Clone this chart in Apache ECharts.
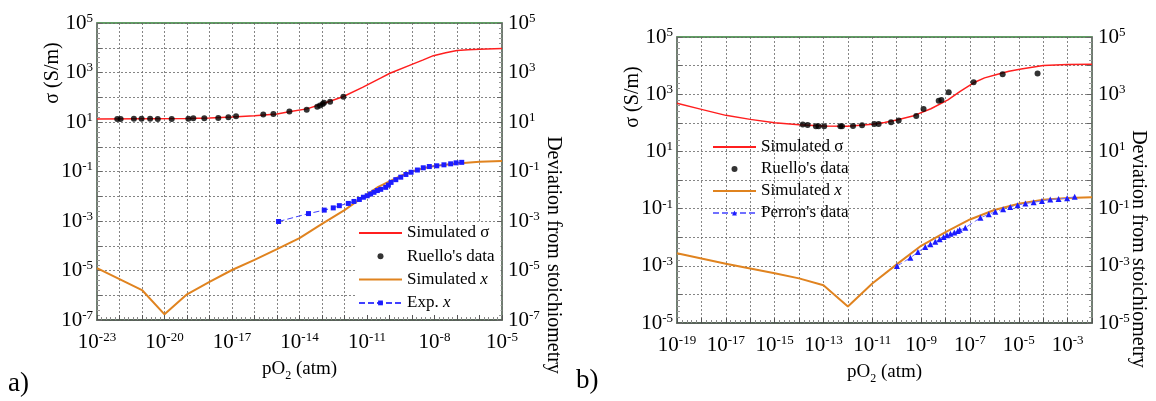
<!DOCTYPE html>
<html>
<head>
<meta charset="utf-8">
<script src="https://cdn.jsdelivr.net/npm/echarts@6/dist/echarts.min.js"></script>
<style>
html,body{margin:0;padding:0;background:#fff;}
#c{width:1156px;height:401px;}
</style>
</head>
<body>
<div id="c"></div>
<script>
// ===== Panel a) — all values are log10 (pO2 in atm, sigma in S/m, x deviation) =====
const aSimSigmaLogP = [-23, -21, -19, -18, -17, -16, -15, -14.4, -13.67, -13, -12.07, -11.2, -10.4, -9.98, -9, -8.5, -8.05, -7.5, -7, -6.5, -6, -5];
const aSimSigmaLogS = [1.12, 1.13, 1.14, 1.16, 1.20, 1.25, 1.32, 1.42, 1.53, 1.73, 2.02, 2.40, 2.77, 2.97, 3.33, 3.51, 3.68, 3.80, 3.89, 3.92, 3.94, 3.97];

const aRuelloLogP = [-22.10, -21.95, -21.36, -21.02, -20.64, -20.30, -19.68, -18.94, -18.72, -18.23, -17.61, -17.16, -16.82, -15.61, -15.16, -14.45, -13.68, -13.21, -13.09, -12.97, -12.91, -12.64, -12.05];
const aRuelloLogS = [1.12, 1.12, 1.13, 1.13, 1.13, 1.12, 1.12, 1.13, 1.15, 1.15, 1.16, 1.19, 1.23, 1.30, 1.32, 1.42, 1.50, 1.62, 1.67, 1.73, 1.78, 1.82, 2.02];

const aSimXLogP = [-23, -21, -20, -19, -18, -17, -16, -15, -14, -13, -12, -11.3, -11, -10.5, -10, -9.5, -9, -8.5, -8, -7, -6, -5];
const aSimXLogX = [-4.90, -5.79, -6.77, -5.96, -5.46, -4.98, -4.57, -4.14, -3.69, -3.12, -2.56, -2.11, -1.93, -1.62, -1.40, -1.18, -1.00, -0.87, -0.78, -0.68, -0.61, -0.58];

const aExpXLogP = [-14.93, -13.60, -12.90, -12.50, -12.23, -11.83, -11.58, -11.34, -11.16, -10.99, -10.84, -10.69, -10.54, -10.39, -10.17, -10.05, -9.93, -9.72, -9.50, -9.27, -9.04, -8.76, -8.50, -8.23, -7.90, -7.58, -7.28, -7.04, -6.79];
const aExpXLogX = [-3.02, -2.70, -2.56, -2.47, -2.38, -2.29, -2.21, -2.13, -2.04, -1.98, -1.91, -1.84, -1.77, -1.72, -1.64, -1.55, -1.44, -1.33, -1.23, -1.12, -1.03, -0.94, -0.85, -0.80, -0.77, -0.73, -0.69, -0.65, -0.63];

// ===== Panel b) =====
const bSimSigmaLogP = [-19, -18, -17, -16, -15, -14, -13, -12, -11, -10.5, -10, -9.3, -8.6, -7.9, -7.4, -6.85, -6.4, -5.9, -5.4, -4.9, -4, -3, -2];
const bSimSigmaLogS = [2.68, 2.47, 2.26, 2.12, 2.00, 1.93, 1.89, 1.88, 1.95, 2.01, 2.10, 2.25, 2.49, 2.80, 3.10, 3.40, 3.57, 3.69, 3.80, 3.88, 4.00, 4.04, 4.05];

const bRuelloLogP = [-13.85, -13.65, -13.31, -13.20, -12.97, -12.31, -12.24, -11.79, -11.42, -10.92, -10.74, -10.23, -9.92, -9.20, -8.90, -8.28, -8.17, -7.87, -6.85, -5.66, -4.23];
const bRuelloLogS = [1.94, 1.92, 1.88, 1.88, 1.88, 1.88, 1.88, 1.89, 1.91, 1.96, 1.96, 2.02, 2.08, 2.24, 2.48, 2.77, 2.80, 3.07, 3.42, 3.70, 3.72];

const bSimXLogP = [-19, -17, -15, -14, -13, -12, -11, -10, -9, -8, -7, -6, -5, -4, -3, -2];
const bSimXLogX = [-2.56, -2.93, -3.26, -3.44, -3.68, -4.42, -3.62, -2.95, -2.30, -1.82, -1.38, -1.05, -0.83, -0.69, -0.63, -0.60];

const bPerronLogP = [-9.99, -9.44, -9.13, -8.83, -8.62, -8.42, -8.24, -8.08, -7.94, -7.80, -7.64, -7.50, -7.42, -7.19, -6.57, -6.23, -5.96, -5.64, -5.35, -5.05, -4.73, -4.39, -4.05, -3.71, -3.37, -3.02, -2.71];
const bPerronLogX = [-3.01, -2.72, -2.52, -2.34, -2.25, -2.16, -2.07, -1.99, -1.93, -1.88, -1.84, -1.78, -1.74, -1.67, -1.32, -1.20, -1.11, -1.02, -0.94, -0.88, -0.82, -0.78, -0.73, -0.68, -0.66, -0.64, -0.59];

// Legend entries
const legendA = ['Simulated \u03c3', "Ruello's data", 'Simulated x', 'Exp. x'];
const legendB = ['Simulated \u03c3', "Ruello's data", 'Simulated x', "Perron's data"];

const FONT = '"Liberation Serif", "Times New Roman", serif';
const pair = (xs, ys) => xs.map((v, i) => [v, ys[i]]);

const richTick = {
  b: { fontFamily: FONT, fontSize: 21, color: '#000', lineHeight: 22 },
  s: { fontFamily: FONT, fontSize: 13, color: '#000', lineHeight: 13, verticalAlign: 'top' }
};

function xAxisCfg(gridIndex, min, max, step) {
  return {
    type: 'value', gridIndex, min, max, interval: 1,
    axisLine: { show: true, onZero: false, lineStyle: { color: '#555', width: 1.5 } },
    axisTick: { show: true, inside: true, length: 5, lineStyle: { color: '#555' } },
    minorTick: { show: true, splitNumber: 5, length: 3, lineStyle: { color: '#888' } },
    splitLine: { show: true, lineStyle: { color: '#666', type: [2, 2], width: 0.8 } },
    axisLabel: {
      margin: 11,
      formatter: v => { const r = Math.round(v); return ((r - min) % step === 0) ? '{b|10}{s|' + r + '}' : ''; },
      rich: richTick
    },
    name: 'pO{sub|2} (atm)', nameLocation: 'middle', nameGap: 35,
    nameTextStyle: {
      fontFamily: FONT, fontSize: 19, color: '#000', lineHeight: 24,
      rich: { sub: { fontFamily: FONT, fontSize: 12, color: '#000', lineHeight: 10, verticalAlign: 'bottom' } }
    }
  };
}

function yAxisCfg(gridIndex, min, max, pos) {
  return {
    type: 'value', gridIndex, position: pos, min, max, interval: 1,
    axisLine: { show: true, onZero: false, lineStyle: { color: '#777', width: 1.5 } },
    axisTick: { show: true, inside: true, length: 5, lineStyle: { color: '#666' } },
    minorTick: { show: true, splitNumber: 5, length: 3, lineStyle: { color: '#999' } },
    splitLine: { show: pos === 'left', lineStyle: { color: '#666', type: [2, 2], width: 0.8 } },
    axisLabel: {
      margin: pos === 'left' ? 4 : 6,
      formatter: v => { const r = Math.round(v); return ((r - min) % 2 === 0) ? '{b|10}{s|' + r + '}' : ''; },
      rich: richTick
    }
  };
}

const LINE_ICON = 'path://M0,0H43V2H0Z';
function legendCfg(names, left, top, gap, bg) {
  return {
    data: names.map(n => /^Simulated/.test(n) ? { name: n, icon: LINE_ICON } : { name: n }),
    orient: 'vertical', left, top, itemWidth: 43, itemHeight: 6, itemGap: gap,
    padding: bg ? [2, 6, 2, 2] : 0, backgroundColor: bg ? '#fff' : 'transparent',
    selectedMode: false,
    textStyle: {
      fontFamily: FONT, fontSize: 17, color: '#000', lineHeight: 18,
      rich: { i: { fontFamily: FONT, fontSize: 17, fontStyle: 'italic', color: '#000', lineHeight: 18 } }
    },
    formatter: n => /x$/.test(n) ? n.replace(/x$/, '{i|x}') : n
  };
}

const RED = '#ff1f1f', ORANGE = '#e0831f', BLUE = '#1c1cff';

const option = {
  backgroundColor: '#fff',
  animation: false,
  grid: [
    { left: 97, top: 23, width: 405, height: 297, show: true, borderColor: '#2e7d32', borderWidth: 1.5, backgroundColor: 'transparent' },
    { left: 677, top: 37, width: 415, height: 286, show: true, borderColor: '#2e7d32', borderWidth: 1.5, backgroundColor: 'transparent' }
  ],
  xAxis: [xAxisCfg(0, -23, -5, 3), xAxisCfg(1, -19, -2, 2)],
  yAxis: [yAxisCfg(0, -7, 5, 'left'), yAxisCfg(0, -7, 5, 'right'), yAxisCfg(1, -5, 5, 'left'), yAxisCfg(1, -5, 5, 'right')],
  legend: [legendCfg(legendA, 356, 222, 5.3, true), legendCfg(legendB, 712, 138, 4, false)],
  series: [
    { name: 'Simulated \u03c3', type: 'line', xAxisIndex: 0, yAxisIndex: 0, data: pair(aSimSigmaLogP, aSimSigmaLogS), symbol: 'none', lineStyle: { color: RED, width: 1.5 }, itemStyle: { color: RED }, z: 3 },
    { name: 'Simulated x', type: 'line', xAxisIndex: 0, yAxisIndex: 0, data: pair(aSimXLogP, aSimXLogX), symbol: 'none', lineStyle: { color: ORANGE, width: 2 }, itemStyle: { color: ORANGE }, z: 3 },
    { name: "Ruello's data", type: 'scatter', xAxisIndex: 0, yAxisIndex: 0, data: pair(aRuelloLogP, aRuelloLogS), symbol: 'circle', symbolSize: 6, itemStyle: { color: '#000' }, z: 4 },
    { name: 'Exp. x', type: 'line', xAxisIndex: 0, yAxisIndex: 0, data: pair(aExpXLogP, aExpXLogX), symbol: 'rect', symbolSize: 5, showAllSymbol: true, lineStyle: { color: '#4040ff', width: 1, type: [6, 3] }, itemStyle: { color: BLUE }, z: 4 },

    { name: 'Simulated \u03c3', type: 'line', xAxisIndex: 1, yAxisIndex: 2, data: pair(bSimSigmaLogP, bSimSigmaLogS), symbol: 'none', lineStyle: { color: RED, width: 1.5 }, itemStyle: { color: RED }, z: 3 },
    { name: 'Simulated x', type: 'line', xAxisIndex: 1, yAxisIndex: 2, data: pair(bSimXLogP, bSimXLogX), symbol: 'none', lineStyle: { color: ORANGE, width: 2 }, itemStyle: { color: ORANGE }, z: 3 },
    { name: "Ruello's data", type: 'scatter', xAxisIndex: 1, yAxisIndex: 2, data: pair(bRuelloLogP, bRuelloLogS), symbol: 'circle', symbolSize: 6, itemStyle: { color: '#000' }, z: 4 },
    { name: "Perron's data", type: 'line', xAxisIndex: 1, yAxisIndex: 2, data: pair(bPerronLogP, bPerronLogX), symbol: 'triangle', symbolSize: 6, showAllSymbol: true, lineStyle: { color: '#7070ff', width: 1, type: [6, 3] }, itemStyle: { color: BLUE }, z: 4 }
  ],
  graphic: [
    { type: 'text', x: 53, y: 73, rotation: Math.PI / 2, style: { text: '\u03c3 (S/m)', font: '20px ' + FONT, fill: '#000', align: 'center', verticalAlign: 'middle', textAlign: 'center', textVerticalAlign: 'middle' } },
    { type: 'text', x: 553, y: 255, rotation: -Math.PI / 2, style: { text: 'Deviation from stoichiometry', font: '20px ' + FONT, fill: '#000', align: 'center', verticalAlign: 'middle', textAlign: 'center', textVerticalAlign: 'middle' } },
    { type: 'text', x: 633, y: 97, rotation: Math.PI / 2, style: { text: '\u03c3 (S/m)', font: '20px ' + FONT, fill: '#000', align: 'center', verticalAlign: 'middle', textAlign: 'center', textVerticalAlign: 'middle' } },
    { type: 'text', x: 1138, y: 249, rotation: -Math.PI / 2, style: { text: 'Deviation from stoichiometry', font: '20px ' + FONT, fill: '#000', align: 'center', verticalAlign: 'middle', textAlign: 'center', textVerticalAlign: 'middle' } },
    { type: 'text', x: 8, y: 384, style: { text: 'a)', font: '27px ' + FONT, fill: '#000', align: 'left', verticalAlign: 'middle', textAlign: 'left', textVerticalAlign: 'middle' } },
    { type: 'text', x: 576, y: 381, style: { text: 'b)', font: '27px ' + FONT, fill: '#000', align: 'left', verticalAlign: 'middle', textAlign: 'left', textVerticalAlign: 'middle' } }
  ]
};

const chart = echarts.init(document.getElementById('c'), null, { renderer: 'canvas' });
chart.setOption(option);
</script>
</body>
</html>
